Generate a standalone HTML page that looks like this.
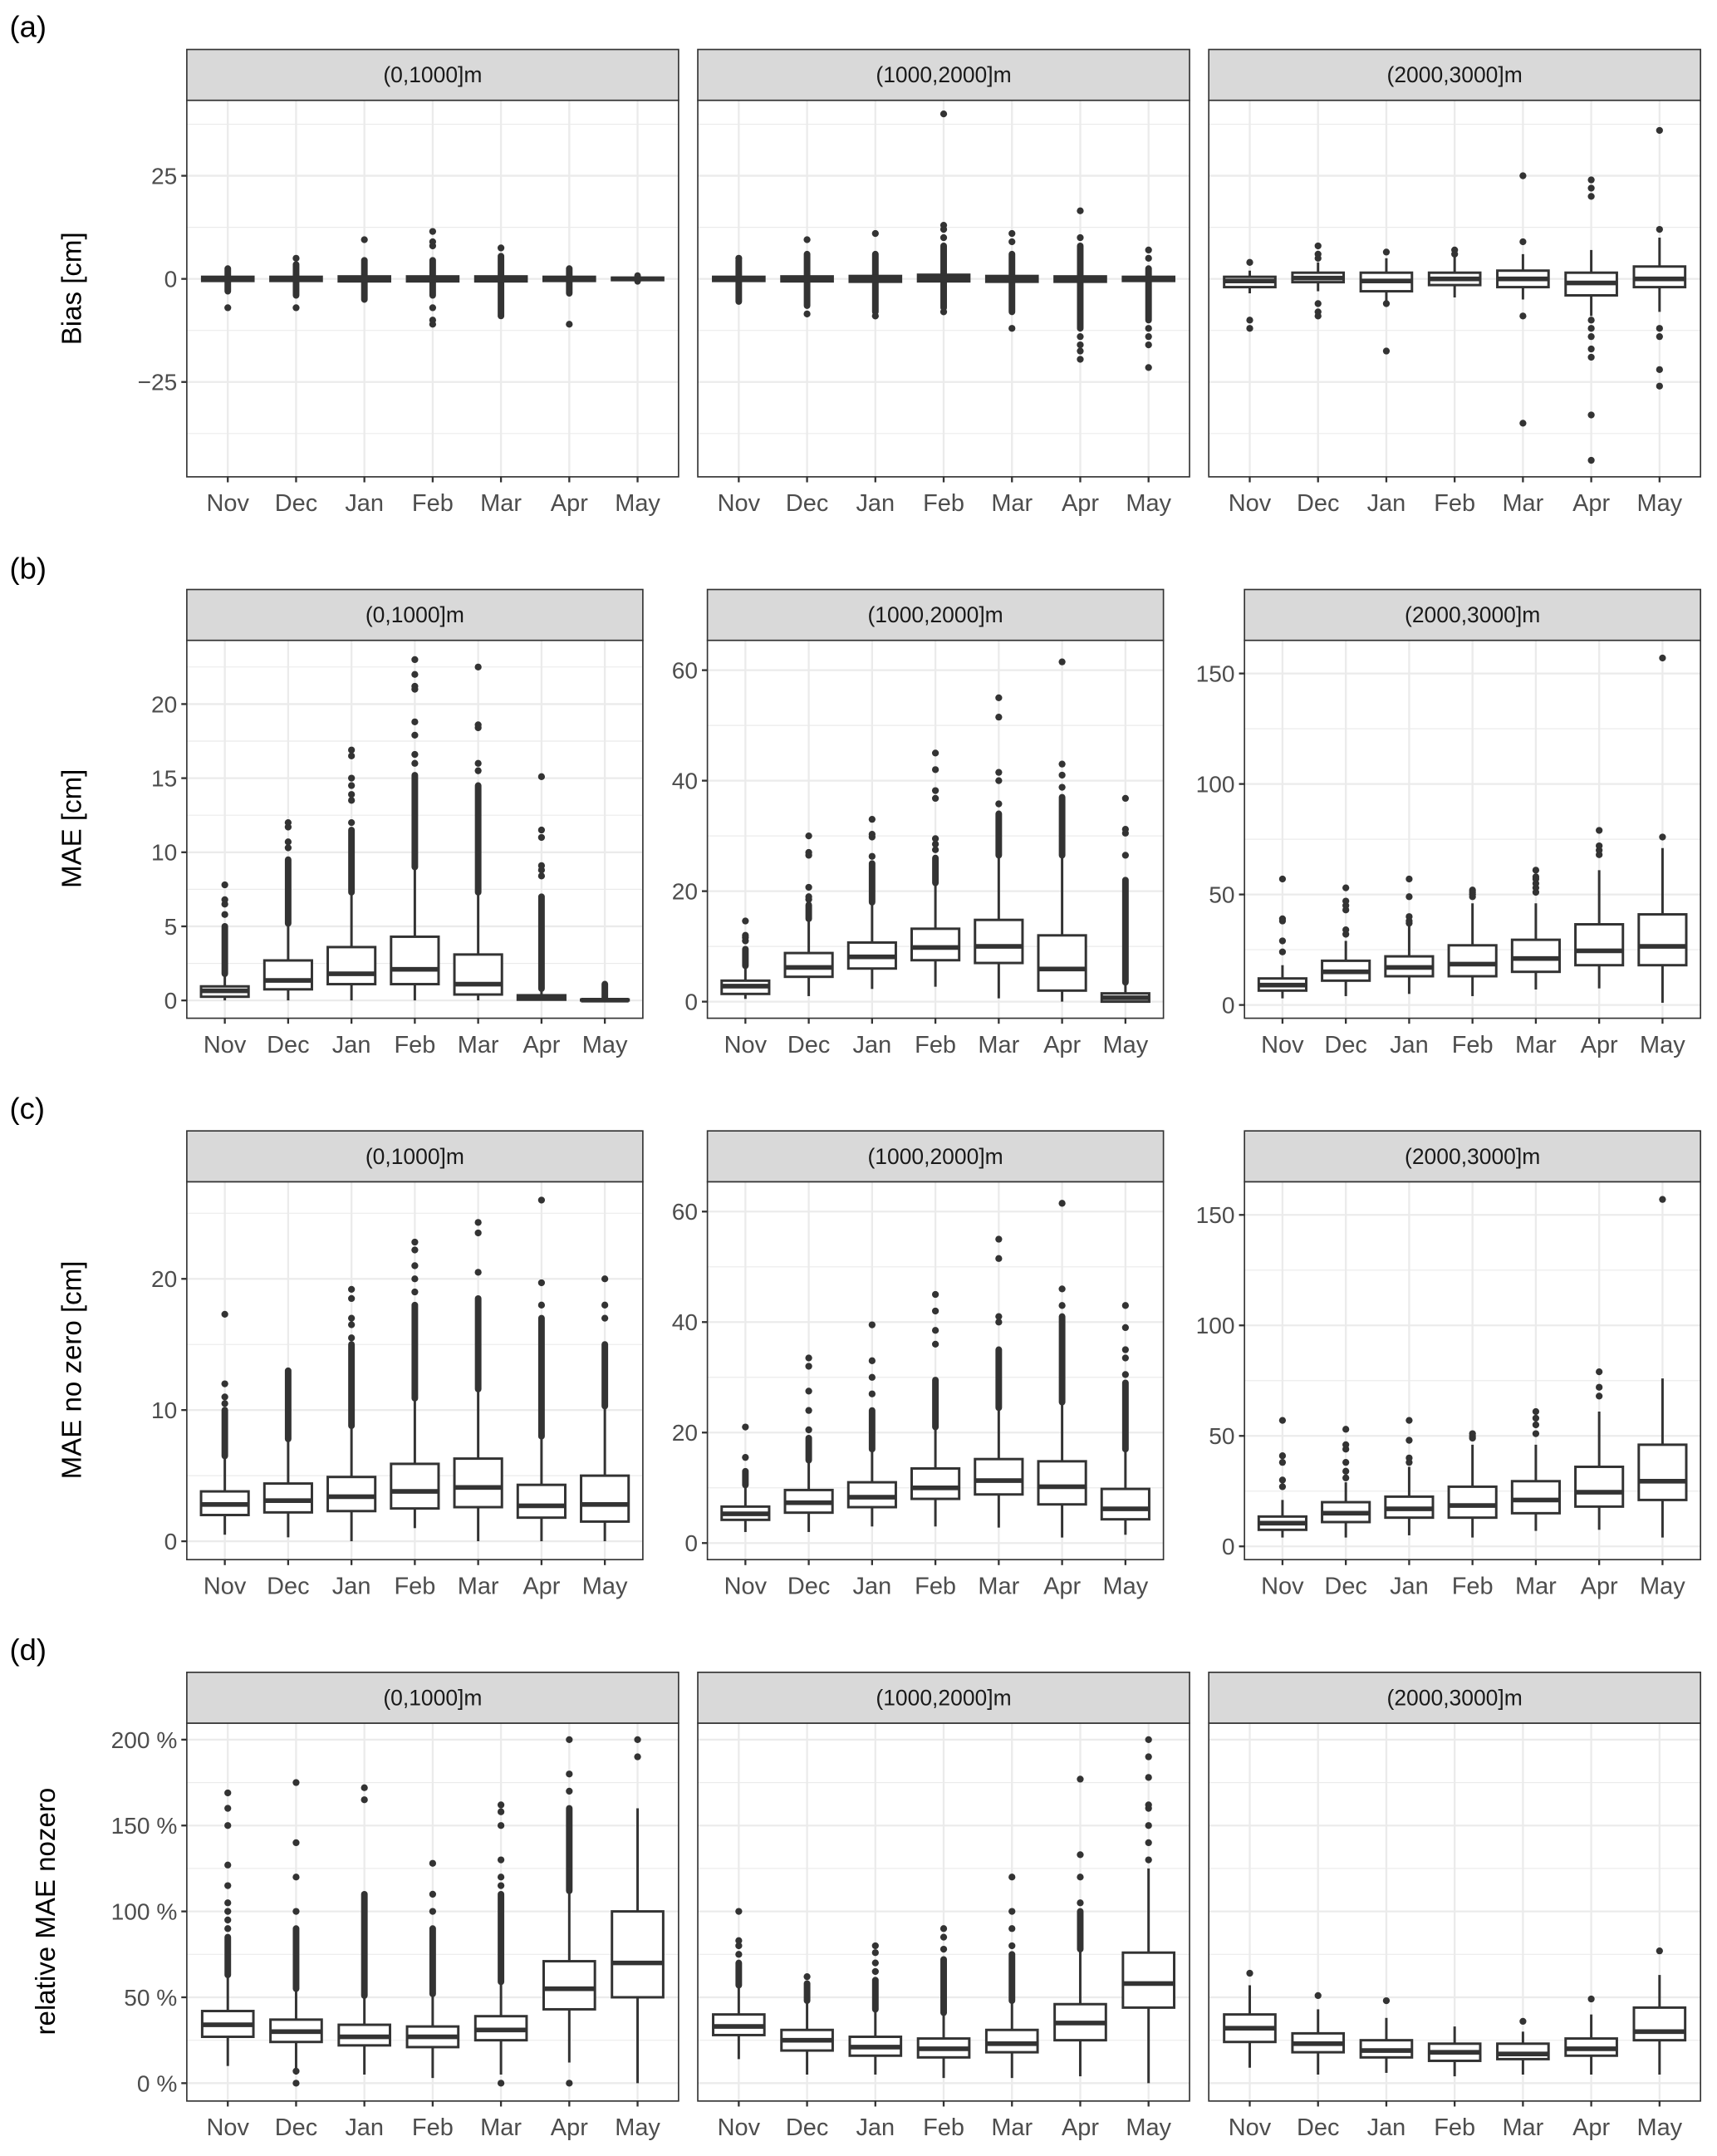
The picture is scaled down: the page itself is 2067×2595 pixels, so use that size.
<!DOCTYPE html>
<html><head><meta charset="utf-8"><style>
html,body{margin:0;padding:0;background:#fff;}
svg{display:block;font-family:"Liberation Sans",sans-serif;}
</style></head><body>
<svg id="chart" width="2067" height="2595" viewBox="0 0 1250 1569" preserveAspectRatio="none" xmlns="http://www.w3.org/2000/svg"></svg>
<script>
const MONTHS=["Nov","Dec","Jan","Feb","Mar","Apr","May"];
// ---- (a) Bias
const A_TICKS=[-25,0,25];
const A_MINOR=[-37.5,-12.5,12.5,37.5];
const A1_Q1=[-0.5,-0.5,-0.6,-0.6,-0.6,-0.5,-0.3];
const A1_MED=[0,0,0,0,0,0,0];
const A1_Q3=[0.5,0.5,0.6,0.6,0.6,0.5,0.3];
const A1_LO=[-0.8,-0.8,-1,-1,-1,-0.8,-0.4];
const A1_HI=[0.8,0.8,1,1,1,0.8,0.4];
const A1_DL=[-3,-4,-5,-4,-9,-3.5,-0.6];
const A1_DH=[2.5,3.5,4.5,4.5,5.5,2.5,0.8];
const A1_OUT=[[-7],[5,-7],[9.5],[11.5,9,8,-7,-10,-11],[7.5],[-11],[]];
const A2_Q1=[-0.5,-0.6,-0.7,-0.6,-0.7,-0.7,-0.5];
const A2_MED=[0,0,0,0.2,0,0,0];
const A2_Q3=[0.5,0.6,0.7,1,0.7,0.6,0.5];
const A2_LO=[-1,-1.2,-1.5,-1.5,-1.5,-1.5,-1];
const A2_HI=[1,1.2,1.5,2,1.5,1.2,1];
const A2_DL=[-5.5,-6.5,-8,-7,-8,-12,-10];
const A2_DH=[4.5,6,6,8,6,8,2.5];
const A2_OUT=[[5],[9.5,-8.5],[11,-9],[40,13,12,10,-8],[11,9,-12],[16.5,10,-14,-16,-17.5,-19.5],[7,5,-12,-14,-16,-21.5]];
const A3_Q1=[-2,-0.8,-3,-1.5,-2,-4,-2];
const A3_MED=[-0.5,0.2,-0.5,0,0,-1,0];
const A3_Q3=[0.5,1.5,1.5,1.5,2,1.5,3];
const A3_LO=[-3.5,-3,-6,-4.5,-5,-9,-8];
const A3_HI=[2,4,5,5.5,6,7,10];
const A3_OUT=[[4,-10,-12],[8,6,5,-6,-8,-9],[6.5,-6,-17.5],[7,6],[25,9,-9,-35],[24,22,20,-10,-12,-14,-17,-19,-33,-44],[36,12,-12,-14,-22,-26]];
// ---- (b) MAE
const B1_TICKS=[0,5,10,15,20];
const B1_MINOR=[2.5,7.5,12.5,17.5,22.5];
const B1_Q1=[0.25,0.75,1.1,1.1,0.4,0.05,0];
const B1_MED=[0.65,1.35,1.8,2.1,1.1,0.15,0.02];
const B1_Q3=[0.95,2.7,3.6,4.3,3.1,0.35,0.06];
const B1_LO=[0,0,0,0,0,0,0];
const B1_HI=[1.8,5.2,7.3,9,7.3,0.8,0.1];
const B1_DL=[1.8,5.2,7.3,9,7.3,0.8,0.1];
const B1_DH=[5,9.5,11.5,15.2,14.5,7,1.1];
const B1_OUT=[[5.8,6.5,6.8,7.8],[10.3,10.7,11.7,12],[12,13.5,13.9,14.5,15,16.5,16.9],[16,16.6,17.9,18.8,21,21.2,22,23],[15.5,16,18.4,18.6,22.5],[8.4,8.8,9.1,11,11.5,15.1],[]];
const MID_TICKS=[0,20,40,60];
const MID_MINOR=[10,30,50];
const B2_Q1=[1.4,4.5,6,7.5,7,2,0];
const B2_MED=[2.8,6.2,8.1,9.8,10,5.9,0.7];
const B2_Q3=[3.8,8.8,10.7,13.2,14.8,12,1.5];
const B2_LO=[0.5,1,2.3,2.7,0.6,0,0];
const B2_HI=[6.5,15,18,21.5,26.5,26.5,3.5];
const B2_DL=[6.5,15,18,21.5,26.5,26.5,3.5];
const B2_DH=[9.5,17.5,25,26,34,37,22];
const B2_OUT=[[11,11.6,12,14.6],[18.5,19,20.7,26.5,27,30],[26.3,29.8,30.3,33],[27.5,28.5,29.5,36.8,38.2,42,45],[35.8,40,41.5,51.5,55],[38.8,41,43,61.5],[26.5,30.5,31.2,36.8]];
const HI_TICKS=[0,50,100,150];
const HI_MINOR=[25,75,125];
const B3_Q1=[6.5,11,13,13,15,18,18];
const B3_MED=[9,15,17,18.5,21,24.5,26.5];
const B3_Q3=[12,20,22,27,29.5,36.5,41];
const B3_LO=[3,4,5,4,7,7.5,1];
const B3_HI=[18,29,36,46,46,61,71];
const B3_OUT=[[24,29,38,39,57],[32,34,43,45,47,53],[37,38,40,49,57],[49,50,51,52],[51,53,55,57,58,61],[68,70,72,79],[76,157]];
// ---- (c) MAE no zero
const C1_TICKS=[0,10,20];
const C1_MINOR=[5,15,25];
const C1_Q1=[2,2.2,2.3,2.5,2.6,1.8,1.5];
const C1_MED=[2.8,3.1,3.4,3.8,4.1,2.7,2.8];
const C1_Q3=[3.8,4.4,4.9,5.9,6.3,4.3,5];
const C1_LO=[0.5,0.3,0,1,0,0,0];
const C1_HI=[6.5,7.8,8.8,10.9,11.6,8,10.3];
const C1_DL=[6.5,7.8,8.8,10.9,11.6,8,10.3];
const C1_DH=[10,13,15,18,18.5,17,15];
const C1_OUT=[[10.5,11,12,17.3],[],[15.5,16.5,17,18.5,19.2],[19,20,21,22.2,22.8],[20.5,23.5,24.3],[18,19.7,26],[17,18,20]];
const C2_Q1=[4.2,5.5,6.5,8,8.8,7,4.3];
const C2_MED=[5.3,7.3,8.3,10,11.3,10.2,6.2];
const C2_Q3=[6.6,9.6,11,13.5,15.2,14.8,9.8];
const C2_LO=[2,2,3,3,2.8,1,1.5];
const C2_HI=[10.5,15,17,21,24.5,25.5,17];
const C2_DL=[10.5,15,17,21,24.5,25.5,17];
const C2_DH=[13,19,24,29.5,35,41,29];
const C2_OUT=[[15.5,21],[20.5,24,27.5,32,33.5],[27,30,33,39.5],[36,38.5,42,45],[40,41,51.5,55],[43,46,61.5],[30.5,33.5,35,39,43]];
const C3_Q1=[7.5,11,13,13,15,18,21];
const C3_MED=[10.5,15,17,18.5,21,24.5,29.5];
const C3_Q3=[13.5,20,22.5,27,29.5,36,46];
const C3_LO=[4,4,5,4,7,7.5,4];
const C3_HI=[21,29,36,46,46,61,76];
const C3_OUT=[[27,30,38,41,57],[31,34,38,44,46,53],[38,40,48,57],[49,50,51],[51,55,58,61],[68,72,79],[157]];
// ---- (d) relative MAE nozero (%)
const D_TICKS=[0,50,100,150,200];
const D_LABELS=["0 %","50 %","100 %","150 %","200 %"];
const D_MINOR=[25,75,125,175];
const D1_Q1=[27,24,22,21,25,43,50];
const D1_MED=[34,30,27,27,31,55,70];
const D1_Q3=[42,37,34,33,39,71,100];
const D1_LO=[10,5,5,3,5,12,0];
const D1_HI=[63,55,51,52,59,112,160];
const D1_DL=[63,55,51,52,59,112,null];
const D1_DH=[85,90,110,90,110,160,null];
const D1_OUT=[[90,95,100,105,115,127,150,160,169],[100,120,140,175,0,7],[165,172],[100,110,128],[115,120,130,150,158,162,0],[170,180,200,0],[190,200]];
const D2_Q1=[28,19,16,15,18,25,44];
const D2_MED=[33,25,21,20,23,35,58];
const D2_Q3=[40,31,27,26,31,46,76];
const D2_LO=[14,5,5,3,3,4,0];
const D2_HI=[57,48,43,41,48,78,125];
const D2_DL=[57,48,43,41,48,78,null];
const D2_DH=[70,58,60,72,75,100,null];
const D2_OUT=[[75,80,83,100],[62],[65,70,76,80],[78,85,90],[80,90,100,120],[105,120,133,177],[130,140,150,160,162,178,190,200]];
const D3_Q1=[24,18,15,13,14,16,25];
const D3_MED=[32,23,19,18,17,20,30];
const D3_Q3=[40,29,25,23,23,26,44];
const D3_LO=[9,5,6,4,5,5,5];
const D3_HI=[57,43,38,33,30,40,63];
const D3_OUT=[[64],[51],[48],[],[36],[49],[77]];

const NS="http://www.w3.org/2000/svg";
const svg=document.getElementById("chart");
function el(tag,attrs,parent){const e=document.createElementNS(NS,tag);for(const k in attrs)e.setAttribute(k,attrs[k]);(parent||svg).appendChild(e);return e;}
const DARK="#333333";

function panel(p){
  const g=el("g",{});
  
  
  const sy=v=>p.bottom-(v-p.vmin)/(p.vmax-p.vmin)*(p.bottom-p.top);
  const step=p.w/7.2;
  const sx=i=>p.x+(i+0.6)*step;
  const bg=el("rect",{x:p.x,y:p.top,width:p.w,height:p.bottom-p.top,fill:"#fff"},g);
  
  
  p.minor.forEach(v=>{const l=el("line",{x1:p.x,x2:p.x+p.w,y1:sy(v),y2:sy(v),stroke:"#ebebeb","stroke-width":0.7},g);
    
    });
  p.ticks.forEach(v=>{const l=el("line",{x1:p.x,x2:p.x+p.w,y1:sy(v),y2:sy(v),stroke:"#ebebeb","stroke-width":1.4},g);
    
    });
  MONTHS.forEach((m,i)=>{const l=el("line",{x1:sx(i),x2:sx(i),y1:p.top,y2:p.bottom,stroke:"#ebebeb","stroke-width":1.4},g);
    
    });
  const bw=step*0.75;
  MONTHS.forEach((m,i)=>{
    const bx=el("g",{},g);
    
    
    const cx=sx(i);
    const w1=el("line",{x1:cx,x2:cx,y1:sy(p.hi[i]),y2:sy(p.q3[i]),stroke:DARK,"stroke-width":1.8},bx);
    
    
    const w2=el("line",{x1:cx,x2:cx,y1:sy(p.q1[i]),y2:sy(p.lo[i]),stroke:DARK,"stroke-width":1.8},bx);
    
    
    if(p.dl&&p.dl[i]!==null){
      const d=el("line",{x1:cx,x2:cx,y1:sy(p.dl[i]),y2:sy(p.dh[i]),stroke:DARK,"stroke-width":4.8,"stroke-linecap":"round"},bx);
      
      
    }
    const yt=sy(p.q3[i]),yb=sy(p.q1[i]);
    const r=el("rect",{x:cx-bw/2,y:yt,width:bw,height:Math.max(yb-yt,0.5),fill:"#fff",stroke:DARK,"stroke-width":1.8},bx);
    
    
    const md=el("line",{x1:cx-bw/2,x2:cx+bw/2,y1:sy(p.med[i]),y2:sy(p.med[i]),stroke:DARK,"stroke-width":3.4},bx);
    
    
    p.out[i].forEach(v=>{const c=el("circle",{cx:cx,cy:sy(v),r:2.5,fill:DARK},bx);
      
      });
  });
  const bd=el("rect",{x:p.x,y:p.top,width:p.w,height:p.bottom-p.top,fill:"none",stroke:DARK,"stroke-width":1},g);
  
  
  const st=el("rect",{x:p.x,y:p.top-37,width:p.w,height:37,fill:"#d9d9d9",stroke:DARK,"stroke-width":1},g);
  
  
  const stt=el("text",{x:p.x+p.w/2,y:p.top-13,"text-anchor":"middle","font-size":16,fill:"#1a1a1a"},g);
  stt.textContent=p.strip;
  
  
  MONTHS.forEach((m,i)=>{
    const t=el("line",{x1:sx(i),x2:sx(i),y1:p.bottom,y2:p.bottom+4,stroke:DARK,"stroke-width":1.4},g);
    
    
    const tl=el("text",{x:sx(i),y:p.bottom+25,"text-anchor":"middle","font-size":17.5,fill:"#4d4d4d"},g);
    tl.textContent=m;
    
    
  });
  if(p.showY){
    p.ticks.forEach((v,k)=>{
      const t=el("line",{x1:p.x-4,x2:p.x,y1:sy(v),y2:sy(v),stroke:DARK,"stroke-width":1.4},g);
      
      
      const tl=el("text",{x:p.x-7,y:sy(v)+6,"text-anchor":"end","font-size":17,fill:"#4d4d4d"},g);
      tl.textContent=p.labels?p.labels[k]:(v<0?"\u2212"+(-v):String(v));
      
      
    });
  }
}

const WIDE=[136,508,880], WW=358;
const NARROW=[136,515,906], NW=332;
const STRIPS=["(0,1000]m","(1000,2000]m","(2000,3000]m"];
const RA={top:73,bottom:347,vmin:-48,vmax:43.3};
panel({id:"bias-0-1000",x:WIDE[0],w:WW,...RA,ticks:A_TICKS,minor:A_MINOR,showY:true,strip:STRIPS[0],q1:A1_Q1,med:A1_MED,q3:A1_Q3,lo:A1_LO,hi:A1_HI,dl:A1_DL,dh:A1_DH,out:A1_OUT});
panel({id:"bias-1000-2000",x:WIDE[1],w:WW,...RA,ticks:A_TICKS,minor:A_MINOR,showY:false,strip:STRIPS[1],q1:A2_Q1,med:A2_MED,q3:A2_Q3,lo:A2_LO,hi:A2_HI,dl:A2_DL,dh:A2_DH,out:A2_OUT});
panel({id:"bias-2000-3000",x:WIDE[2],w:WW,...RA,ticks:A_TICKS,minor:A_MINOR,showY:false,strip:STRIPS[2],q1:A3_Q1,med:A3_MED,q3:A3_Q3,lo:A3_LO,hi:A3_HI,out:A3_OUT});
panel({id:"mae-0-1000",x:NARROW[0],w:NW,top:466,bottom:741,vmin:-1.2,vmax:24.3,ticks:B1_TICKS,minor:B1_MINOR,showY:true,strip:STRIPS[0],q1:B1_Q1,med:B1_MED,q3:B1_Q3,lo:B1_LO,hi:B1_HI,dl:B1_DL,dh:B1_DH,out:B1_OUT});
panel({id:"mae-1000-2000",x:NARROW[1],w:NW,top:466,bottom:741,vmin:-3,vmax:65.4,ticks:MID_TICKS,minor:MID_MINOR,showY:true,strip:STRIPS[1],q1:B2_Q1,med:B2_MED,q3:B2_Q3,lo:B2_LO,hi:B2_HI,dl:B2_DL,dh:B2_DH,out:B2_OUT});
panel({id:"mae-2000-3000",x:NARROW[2],w:NW,top:466,bottom:741,vmin:-6,vmax:165,ticks:HI_TICKS,minor:HI_MINOR,showY:true,strip:STRIPS[2],q1:B3_Q1,med:B3_MED,q3:B3_Q3,lo:B3_LO,hi:B3_HI,out:B3_OUT});
panel({id:"maenz-0-1000",x:NARROW[0],w:NW,top:860,bottom:1135,vmin:-1.4,vmax:27.4,ticks:C1_TICKS,minor:C1_MINOR,showY:true,strip:STRIPS[0],q1:C1_Q1,med:C1_MED,q3:C1_Q3,lo:C1_LO,hi:C1_HI,dl:C1_DL,dh:C1_DH,out:C1_OUT});
panel({id:"maenz-1000-2000",x:NARROW[1],w:NW,top:860,bottom:1135,vmin:-3,vmax:65.4,ticks:MID_TICKS,minor:MID_MINOR,showY:true,strip:STRIPS[1],q1:C2_Q1,med:C2_MED,q3:C2_Q3,lo:C2_LO,hi:C2_HI,dl:C2_DL,dh:C2_DH,out:C2_OUT});
panel({id:"maenz-2000-3000",x:NARROW[2],w:NW,top:860,bottom:1135,vmin:-6,vmax:165,ticks:HI_TICKS,minor:HI_MINOR,showY:true,strip:STRIPS[2],q1:C3_Q1,med:C3_MED,q3:C3_Q3,lo:C3_LO,hi:C3_HI,out:C3_OUT});
const RD={top:1254,bottom:1529,vmin:-10.4,vmax:209.6};
panel({id:"rel-0-1000",x:WIDE[0],w:WW,...RD,ticks:D_TICKS,labels:D_LABELS,minor:D_MINOR,showY:true,strip:STRIPS[0],q1:D1_Q1,med:D1_MED,q3:D1_Q3,lo:D1_LO,hi:D1_HI,dl:D1_DL,dh:D1_DH,out:D1_OUT});
panel({id:"rel-1000-2000",x:WIDE[1],w:WW,...RD,ticks:D_TICKS,minor:D_MINOR,showY:false,strip:STRIPS[1],q1:D2_Q1,med:D2_MED,q3:D2_Q3,lo:D2_LO,hi:D2_HI,dl:D2_DL,dh:D2_DH,out:D2_OUT});
panel({id:"rel-2000-3000",x:WIDE[2],w:WW,...RD,ticks:D_TICKS,minor:D_MINOR,showY:false,strip:STRIPS[2],q1:D3_Q1,med:D3_MED,q3:D3_Q3,lo:D3_LO,hi:D3_HI,out:D3_OUT});

const TITLES=[["Bias [cm]",52,210],["MAE [cm]",52,603],["MAE no zero [cm]",52,997],["relative MAE nozero",33,1391]];
TITLES.forEach(tt=>{
  const t=el("text",{x:0,y:0,"text-anchor":"middle","font-size":20,fill:"#000",transform:"translate("+(tt[1]+7)+","+tt[2]+") rotate(-90)"});
  t.textContent=tt[0];
  
  
});
const LETTERS=[["(a)",27],["(b)",421],["(c)",814],["(d)",1208]];
LETTERS.forEach(L=>{
  const t=el("text",{x:7,y:L[1],"font-size":22,fill:"#000"});
  t.textContent=L[0];
  
  
});
</script>
</body></html>
